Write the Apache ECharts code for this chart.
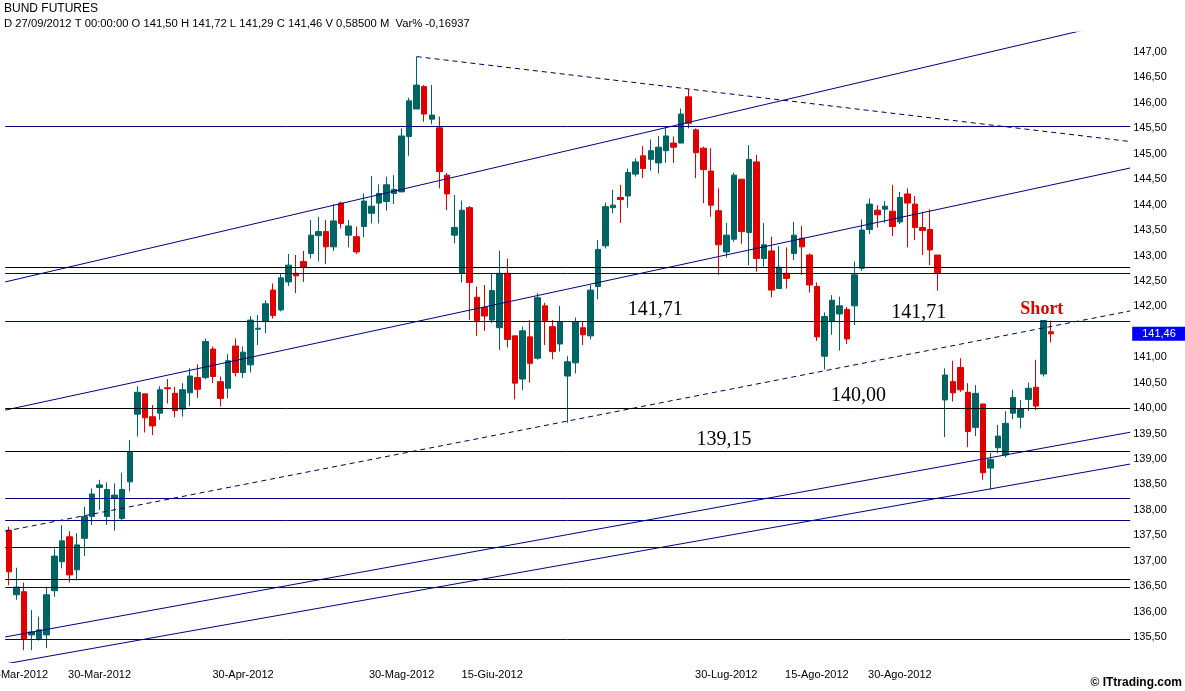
<!DOCTYPE html>
<html>
<head>
<meta charset="utf-8">
<script src="https://cdn.jsdelivr.net/npm/echarts@6/dist/echarts.min.js"></script>
<style>
html,body{margin:0;padding:0;background:#ffffff;}
#chart{width:1185px;height:691px;}
</style>
</head>
<body>
<div id="chart"></div>
<script>
// ---- categories (trading days, Italian month abbreviations) ----
const monthDays = [
  ['Mar', [14,15,16,19,20,21,22,23,26,27,28,29,30]],
  ['Apr', [2,3,4,5,10,11,12,13,16,17,18,19,20,23,24,25,26,27,30]],
  ['Mag', [2,3,4,7,8,9,10,11,14,15,16,17,18,21,22,23,24,25,28,29,30,31]],
  ['Giu', [1,4,5,6,7,8,11,12,13,14,15,18,19,20,21,22,25,26,27,28,29]],
  ['Lug', [2,3,4,5,6,9,10,11,12,13,16,17,18,19,20,23,24,25,26,27,30,31]],
  ['Ago', [1,2,3,6,7,8,9,10,13,14,15,16,17,20,21,22,23,24,27,28,29,30,31]],
  ['Set', [3,4,5,6,7,10,11,12,13,14,17,18,19,20,21,24,25,26,27,28]],
  ['Ott', [1,2,3,4,5,8,9,10,11]]
];
const tickLabels = ['15-Mar-2012','30-Mar-2012','30-Apr-2012','30-Mag-2012','15-Giu-2012','30-Lug-2012','15-Ago-2012','30-Ago-2012'];

// ---- OHLC series ----
const openV = [137.60,136.33,136.39,135.54,135.47,135.54,136.41,136.98,137.47,136.82,
137.44,137.87,138.44,137.87,138.23,137.83,138.55,139.88,140.28,139.83,
139.90,140.40,140.29,139.98,140.30,140.60,140.60,141.16,140.52,140.39,
141.22,140.70,140.85,141.55,141.70,142.32,141.93,142.48,142.65,142.88,
143.04,143.39,143.47,143.17,144.03,143.40,143.37,143.57,143.83,144.03,
144.06,144.22,144.25,145.34,145.88,146.32,145.68,145.51,144.58,143.40,
142.65,143.94,142.18,141.98,141.73,141.58,142.65,141.42,140.57,141.40,
140.98,142.01,141.60,141.26,140.63,140.89,141.58,141.42,142.39,143.19,
143.94,144.14,144.17,144.60,144.96,144.89,144.82,145.06,145.21,145.21,
146.12,145.47,145.11,144.66,143.88,143.07,143.32,144.50,143.45,144.84,
142.94,143.09,142.35,142.65,143.04,143.34,143.01,142.39,141.02,141.70,
141.85,141.94,142.01,142.75,143.51,143.89,143.91,143.87,143.66,144.21,
144.01,143.55,143.51,143.01,140.16,140.52,140.80,140.31,139.62,140.08,
138.82,139.22,139.08,139.90,139.82,140.17,140.41,140.67,141.50];
const closeV = [136.78,136.48,135.46,135.60,135.64,136.33,137.09,137.39,136.72,137.31,
137.87,138.31,138.49,138.40,138.29,138.40,139.14,140.31,139.81,139.65,
140.36,140.38,139.95,140.36,140.63,140.37,141.31,140.62,140.19,140.93,
140.70,141.10,141.73,141.57,142.05,141.82,142.56,142.81,142.60,142.77,
143.40,143.47,143.17,143.68,143.63,143.58,143.07,144.07,143.97,144.22,
144.39,144.30,145.35,146.04,146.35,145.78,145.76,144.65,144.21,143.55,
143.89,142.47,141.72,141.81,142.31,142.65,141.35,140.49,141.52,140.88,
142.17,141.72,141.11,141.70,140.91,141.70,141.44,142.32,143.12,143.96,
143.99,144.10,144.63,144.84,144.71,145.06,145.13,145.35,145.13,145.78,
145.60,145.02,144.69,143.99,143.21,143.40,144.58,143.47,144.89,142.94,
143.21,142.32,142.77,142.55,143.40,143.17,142.42,141.40,141.80,142.12,
142.01,141.36,142.62,143.50,144.01,143.80,143.97,143.57,144.14,144.03,
143.55,143.49,143.11,142.66,140.65,140.30,140.36,139.54,140.29,138.73,
138.99,139.45,139.70,140.21,139.99,140.39,140.04,141.72,141.46];
const lowV = [136.52,136.23,135.24,135.24,135.43,135.28,136.29,136.85,136.57,136.61,
137.09,137.70,138.00,137.70,137.59,137.80,138.36,139.44,139.52,139.47,
139.77,140.09,139.82,139.83,140.04,140.20,140.57,140.49,140.03,140.19,
140.62,140.59,140.70,141.24,141.47,141.76,141.90,142.40,142.26,142.48,
142.94,142.88,142.83,143.09,143.53,143.16,143.03,143.36,143.63,143.63,
143.88,144.01,144.25,144.96,145.88,145.63,145.58,144.32,143.89,143.24,
142.47,141.73,141.42,141.52,141.67,141.14,141.19,140.17,140.36,140.50,
140.95,141.24,140.96,141.11,139.71,140.68,141.24,141.35,142.14,143.14,
143.83,143.64,143.94,144.55,144.52,144.67,144.61,144.82,144.82,145.21,
145.50,144.52,144.03,143.76,142.62,142.96,143.27,143.23,142.81,142.68,
142.78,142.18,142.35,142.35,142.91,142.62,142.27,141.32,140.76,141.44,
141.13,141.26,141.63,142.70,143.42,143.55,143.64,143.38,143.62,143.16,
143.30,143.01,142.81,142.31,139.43,140.13,140.32,139.23,139.45,138.59,
138.40,139.11,139.03,139.78,139.60,139.94,139.96,140.62,141.29];
const highV = [137.67,136.86,136.57,136.03,135.90,136.49,137.24,137.70,137.58,137.54,
138.06,138.42,138.59,138.54,138.52,138.73,139.37,140.43,140.28,140.06,
140.43,140.57,140.42,140.49,140.78,140.86,141.37,141.21,140.62,141.06,
141.37,141.21,141.81,141.83,142.12,142.45,142.65,143.03,143.01,143.09,
143.70,143.76,143.70,144.01,144.06,143.70,143.57,144.22,144.56,144.40,
144.55,144.58,145.50,146.10,146.91,146.35,146.35,145.73,144.62,144.19,
144.08,143.97,142.39,142.42,142.65,143.09,142.94,141.42,141.60,141.73,
142.26,142.07,141.73,142.01,141.02,141.78,141.71,142.42,143.30,144.04,
144.29,144.39,144.71,144.91,145.15,145.28,145.35,145.53,145.34,145.89,
146.27,145.50,145.14,145.11,144.32,143.64,144.63,144.50,145.17,144.98,
143.64,143.37,143.19,143.16,143.66,143.58,143.04,142.47,141.88,142.22,
142.19,141.99,142.88,143.71,144.12,143.99,144.07,144.39,144.25,144.32,
144.17,143.86,143.91,143.01,140.78,140.93,140.98,140.49,140.45,140.09,
139.12,139.67,139.94,140.36,140.16,140.50,140.95,141.72,141.72];

// ---- drawn levels / trend lines (data coordinates: candle index, price) ----
const blackLevels = [142.77, 140.00, 139.15, 136.63];
const navyLevels = [145.55, 142.65, 141.71, 138.23, 137.79, 137.26, 136.48, 135.46];
const solidTrends = [
  [[-0.5, 142.48], [148.5, 147.645]],
  [[-0.5, 139.96], [148.5, 144.72]],
  [[-0.5, 135.50], [148.5, 139.525]],
  [[-0.5, 134.97], [148.5, 138.90]]
];
const dashedTrends = [
  [[-0.5, 137.58], [148.5, 141.91]],
  [[54, 146.91], [148.5, 145.24]]
];
const notes = [
  {text: '141,71', at: [85.6, 141.94]},
  {text: '141,71', at: [120.5, 141.87]},
  {text: '140,00', at: [112.5, 140.24]},
  {text: '139,15', at: [94.7, 139.38]},
  {text: 'Short', at: [136.8, 141.95], signal: true}
];
const titleText = 'BUND FUTURES';
const infoText = 'D 27/09/2012 T 00:00:00 O 141,50 H 141,72 L 141,29 C 141,46 V 0,58500 M  Var% -0,16937';

// ---- build ----
const categories = [];
monthDays.forEach(([m, days]) => days.forEach(d => categories.push((d < 10 ? '0' + d : '' + d) + '-' + m + '-2012')));
const candles = openV.map((o, i) => [o, closeV[i], lowV[i], highV[i]]);
const lastClose = closeV[closeV.length - 1];
const fmt = v => v.toFixed(2).replace('.', ',');

const TEAL = '#006464', RED = '#e00000', NAVY = '#000080', DASH = '#00005a';
const sansFont = 'Liberation Sans, Arial, sans-serif';
const serifFont = 'Liberation Serif, Times New Roman, serif';

const markData = [];
blackLevels.forEach(v => markData.push({yAxis: v, lineStyle: {color: '#000000', width: 1, type: 'solid'}}));
navyLevels.forEach(v => markData.push({yAxis: v, lineStyle: {color: NAVY, width: 1, type: 'solid'}}));
markData.push({
  yAxis: lastClose,
  lineStyle: {color: 'rgba(255,255,255,0)', width: 1},
  label: {
    show: true, position: 'end', distance: 2, formatter: fmt(lastClose),
    color: '#ffffff', backgroundColor: '#0000ff', fontSize: 11, fontFamily: sansFont,
    padding: [1, 11, 1, 10], lineHeight: 12
  }
});

const series = [{
  type: 'candlestick',
  xAxisIndex: 0, yAxisIndex: 0,
  data: candles,
  barWidth: 6,
  z: 2,
  itemStyle: {color: TEAL, color0: RED, borderColor: TEAL, borderColor0: RED, borderColorDoji: TEAL, borderWidth: 1},
  markLine: {
    silent: true, symbol: ['none', 'none'], animation: false,
    label: {show: false},
    data: markData
  }
}];
solidTrends.forEach(seg => series.push({
  type: 'line', xAxisIndex: 1, yAxisIndex: 0, data: seg, symbol: 'none', silent: true, z: 4, clip: true,
  lineStyle: {color: NAVY, width: 1, type: 'solid'}
}));
dashedTrends.forEach(seg => series.push({
  type: 'line', xAxisIndex: 1, yAxisIndex: 0, data: seg, symbol: 'none', silent: true, z: 4, clip: true,
  lineStyle: {color: DASH, width: 1, type: [5, 4]}
}));
series.push({
  type: 'scatter', xAxisIndex: 1, yAxisIndex: 0, symbolSize: 1, silent: true, z: 6,
  itemStyle: {color: 'rgba(0,0,0,0)', opacity: 1},
  data: notes.map(n => ({
    value: n.at,
    label: n.signal
      ? {show: true, position: 'inside', formatter: n.text, color: RED, fontSize: 18, fontWeight: 'bold', fontFamily: serifFont, textBorderWidth: 0, opacity: 1}
      : {show: true, position: 'inside', formatter: n.text, color: '#000000', fontSize: 20, fontFamily: serifFont, textBorderWidth: 0, opacity: 1}
  }))
});

const chart = echarts.init(document.getElementById('chart'), null, {renderer: 'canvas'});
chart.setOption({
  animation: false,
  backgroundColor: '#ffffff',
  title: {
    text: titleText, subtext: infoText, left: 4, top: 3, itemGap: 3, padding: 0,
    textStyle: {fontSize: 12, fontWeight: 'normal', color: '#000000', fontFamily: sansFont},
    subtextStyle: {fontSize: 11.25, color: '#000000', fontFamily: sansFont}
  },
  grid: {left: 5.2, right: 54.8, top: 32.2, bottom: 28.6, containLabel: false, outerBoundsMode: 'none'},
  xAxis: [{
    type: 'category', data: categories, boundaryGap: true,
    axisLine: {show: false}, axisTick: {show: false}, splitLine: {show: false},
    axisLabel: {
      interval: (i, v) => tickLabels.indexOf(v) >= 0,
      margin: 7, fontSize: 11, color: '#000000', fontFamily: sansFont, hideOverlap: false
    }
  }, {
    type: 'value', min: -0.5, max: categories.length - 0.5, show: false
  }],
  yAxis: [{
    type: 'value', position: 'right', min: 135, max: 147.39, interval: 0.5,
    axisLine: {show: false}, axisTick: {show: false}, splitLine: {show: false},
    axisLabel: {
      margin: 3, fontSize: 11, color: '#000000', fontFamily: sansFont, showMinLabel: true, showMaxLabel: true,
      formatter: v => {
        const h = v * 2;
        if (Math.abs(h - Math.round(h)) > 1e-6 || v < 135.25 || v > 147.2) return '';
        return fmt(v);
      }
    }
  }],
  graphic: [{
    type: 'text', right: 3, bottom: 2,
    style: {text: '\u00a9 ITtrading.com', font: 'bold 12px ' + sansFont, fill: '#000000'}
  }],
  series: series
});
</script>
</body>
</html>
